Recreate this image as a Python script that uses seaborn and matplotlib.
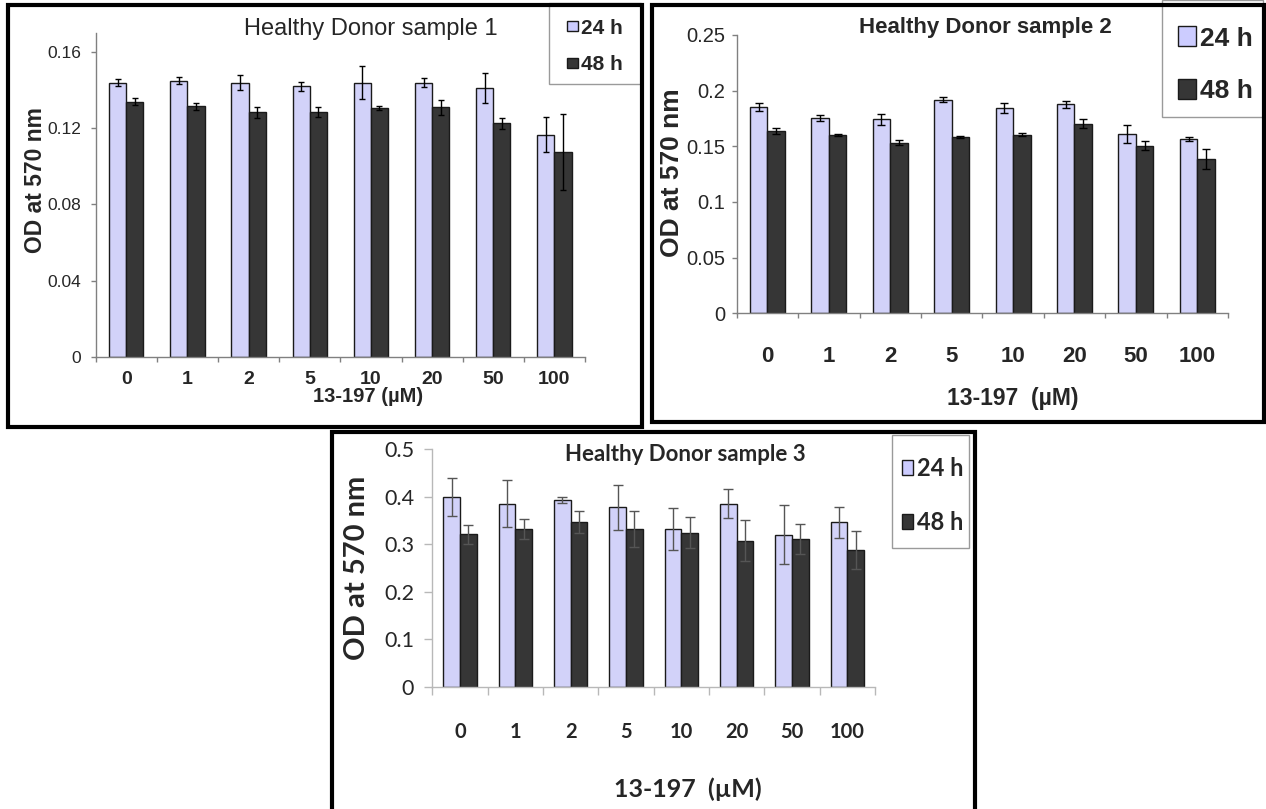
import numpy as np
import pandas as pd
import matplotlib
matplotlib.use('Agg')
import matplotlib.pyplot as plt
from matplotlib.patches import Rectangle
import seaborn as sns

# ---------------- data ----------------
conc = ['0', '1', '2', '5', '10', '20', '50', '100']
times = ['24 h', '48 h']

s1_24 = [0.144, 0.145, 0.144, 0.142, 0.144, 0.144, 0.141, 0.1165]
s1_24_err = [0.002, 0.002, 0.004, 0.0023, 0.0087, 0.0025, 0.008, 0.0092]
s1_48 = [0.134, 0.1314, 0.1284, 0.1286, 0.1305, 0.131, 0.1225, 0.1075]
s1_48_err = [0.002, 0.002, 0.0028, 0.0026, 0.0012, 0.004, 0.0028, 0.020]

s2_24 = [0.185, 0.175, 0.1743, 0.1919, 0.1841, 0.1877, 0.1608, 0.1569]
s2_24_err = [0.0036, 0.0027, 0.005, 0.0024, 0.0045, 0.003, 0.008, 0.0018]
s2_48 = [0.164, 0.1605, 0.1533, 0.1587, 0.1605, 0.1704, 0.1506, 0.1389]
s2_48_err = [0.0027, 0.001, 0.0024, 0.001, 0.0015, 0.0042, 0.004, 0.009]

s3_24 = [0.400, 0.385, 0.393, 0.377, 0.332, 0.385, 0.320, 0.346]
s3_24_err = [0.040, 0.050, 0.006, 0.048, 0.044, 0.030, 0.062, 0.033]
s3_48 = [0.3205, 0.332, 0.3464, 0.332, 0.324, 0.307, 0.311, 0.2875]
s3_48_err = [0.020, 0.021, 0.0235, 0.038, 0.033, 0.043, 0.031, 0.040]

yticks_1 = [0, 0.04, 0.08, 0.12, 0.16]
ylabels_1 = ['0', '0.04', '0.08', '0.12', '0.16']
yticks_2 = [0, 0.05, 0.10, 0.15, 0.20, 0.25]
ylabels_2 = ['0', '0.05', '0.1', '0.15', '0.2', '0.25']
yticks_3 = [0, 0.1, 0.2, 0.3, 0.4, 0.5]
ylabels_3 = ['0', '0.1', '0.2', '0.3', '0.4', '0.5']

palette = {'24 h': '#CCCCFF', '48 h': '#363636'}

# ---------------- setup ----------------
sns.set_style('white')
plt.rcParams['font.family'] = ['Liberation Sans', 'DejaVu Sans']

W, H = 1266, 809
fig = plt.figure(figsize=(W / 100, H / 100), dpi=100)
fig.patch.set_facecolor('white')


def fx(x):
    return x / W


def fy(y):
    return 1 - y / H


def pt2px(s):
    return s * 100 / 72


def px_box(x0, y0, x1, y1, **kw):
    # rectangle given in picture pixels (y downwards)
    r = Rectangle((fx(x0), fy(y1)), (x1 - x0) / W, (y1 - y0) / H,
                  transform=fig.transFigure, **kw)
    fig.add_artist(r)
    return r


def draw_panel(st, m24, e24, m48, e48, yticks, ylabels):
    x0, y0, x1, y1 = st['axes']
    ax = fig.add_axes([fx(x0), fy(y1), (x1 - x0) / W, (y1 - y0) / H])
    df = pd.DataFrame({
        'conc': conc * 2,
        'time': np.repeat(times, len(conc)),
        'od': list(m24) + list(m48),
    })
    sns.barplot(data=df, x='conc', y='od', hue='time', order=conc,
                hue_order=times, palette=palette, width=st['width'],
                errorbar=None, edgecolor='#1a1a1a', linewidth=1.0,
                legend=False, ax=ax, zorder=2)

    for cont, err in zip(ax.containers, [e24, e48]):
        bars = sorted(cont, key=lambda p: p.get_x())
        xs = [p.get_x() + p.get_width() / 2 for p in bars]
        ys = [p.get_height() for p in bars]
        ax.errorbar(xs, ys, yerr=err, fmt='none', ecolor=st['ecolor'],
                    elinewidth=1.0, capsize=st['cap'], capthick=1.0, zorder=5)

    fam = st['family']
    ax.set_xlim(-0.5, len(conc) - 0.5)
    ax.set_ylim(0, st['ymax'])
    ax.set_xticks(range(len(conc)))
    ax.set_xticklabels(conc, fontsize=st['xt_size'], fontweight='bold', family=fam)
    ax.set_xticks(np.arange(-0.5, len(conc)), minor=True)
    ax.set_yticks(yticks)
    ax.set_yticklabels(ylabels, fontsize=st['yt_size'], family=fam)
    ax.tick_params(axis='x', which='major', length=0, pad=st['xt_pad'])
    ax.tick_params(axis='x', which='minor', length=st['tlen'], width=1,
                   color=st['axcol'], direction='out', bottom=True)
    ax.tick_params(axis='y', length=st['tlen'], width=1, color=st['axcol'],
                   direction='out', left=True, pad=st['yt_pad'])
    ax.set_xlabel('')
    ax.set_ylabel('')
    for s in ['top', 'right']:
        ax.spines[s].set_visible(False)
    for s in ['left', 'bottom']:
        ax.spines[s].set_color(st['axcol'])
        ax.spines[s].set_linewidth(1.0)
    ax.set_facecolor('none')

    # title, axis labels
    tx, tb, ts, tw = st['title']
    fig.text(fx(tx), fy(tb), st['title_text'], ha='center', va='baseline',
             fontsize=ts, fontweight=tw, family=fam)
    lx, lb, ls = st['xlabel']
    fig.text(fx(lx), fy(lb), st['xlabel_text'], ha='center', va='baseline',
             fontsize=ls, fontweight='bold', family=fam)
    yx, yy, ys_ = st['ylabel']
    fig.text(fx(yx + 0.1 * pt2px(ys_)), fy(yy), 'OD at 570 nm', rotation=90,
             ha='center', va='center', fontsize=ys_, fontweight='bold', family=fam)

    # legend box
    bx0, by0, bx1, by1 = st['legbox']
    px_box(bx0, by0, bx1, by1, facecolor='white', edgecolor='#9a9a9a', lw=1.0, zorder=3)
    pxl, pw, ph = st['legpatch']
    for t, yc in zip(times, st['legrows']):
        px_box(pxl, yc - ph / 2, pxl + pw, yc + ph / 2, facecolor=palette[t],
               edgecolor='#1a1a1a', lw=1.0, zorder=4)
        fig.text(fx(st['legtext']), fy(yc + 0.36 * pt2px(st['legsize'])), t,
                 ha='left', va='baseline', fontsize=st['legsize'],
                 fontweight='bold', family=fam, zorder=4)

    # outer frame of the panel
    fx0, fy0, fx1, fy1 = st['frame']
    px_box(fx0, fy0, fx1, fy1, fill=False, edgecolor='black', lw=3, zorder=6)
    return ax


style_1 = dict(
    axes=(95.7, 33, 585, 356.7), ymax=0.17, width=0.56,
    family=['Liberation Sans', 'DejaVu Sans'],
    xt_size=14, xt_pad=10.5, yt_size=12.5, yt_pad=7.0, tlen=3.6,
    axcol='#808080', ecolor='black', cap=2.5,
    title_text='Healthy Donor sample 1', title=(370.5, 35, 17, 'normal'),
    xlabel_text='13-197 (\u00b5M)', xlabel=(368.5, 402, 14.5),
    ylabel=(33.5, 180, 16.5),
    legbox=(549, 3, 641, 84), legpatch=(567, 11, 10), legrows=(26, 63),
    legtext=581, legsize=15,
    frame=(8, 5, 642, 427),
)

style_2 = dict(
    axes=(736.7, 35, 1228, 313.3), ymax=0.25, width=0.57,
    family=['Liberation Sans', 'DejaVu Sans'],
    xt_size=16, xt_pad=23.5, yt_size=14.5, yt_pad=4.5, tlen=3.6,
    axcol='#808080', ecolor='black', cap=2.9,
    title_text='Healthy Donor sample 2', title=(985.5, 33, 16, 'bold'),
    xlabel_text='13-197  (\u00b5M)', xlabel=(1013, 405, 16.5),
    ylabel=(669, 173, 19),
    legbox=(1162, 0, 1263, 117), legpatch=(1178, 18, 20), legrows=(36, 89),
    legtext=1200, legsize=19,
    frame=(652, 5, 1264, 422),
)

style_3 = dict(
    axes=(432.3, 449, 875, 686.7), ymax=0.5, width=0.60,
    family=['Lato', 'DejaVu Sans'],
    xt_size=14.5, xt_pad=25.5, yt_size=15.5, yt_pad=7.5, tlen=5.5,
    axcol='#b8b8b8', ecolor='#555555', cap=3.6,
    title_text='Healthy Donor sample 3', title=(685, 461, 16, 'bold'),
    xlabel_text='13-197  (\u00b5M)', xlabel=(688, 797, 18),
    ylabel=(354, 568, 21),
    legbox=(892, 435, 969, 548), legpatch=(902, 11.5, 15), legrows=(467, 521),
    legtext=917, legsize=17,
    frame=(332, 432, 975, 815),
)

draw_panel(style_1, s1_24, s1_24_err, s1_48, s1_48_err, yticks_1, ylabels_1)
draw_panel(style_2, s2_24, s2_24_err, s2_48, s2_48_err, yticks_2, ylabels_2)
draw_panel(style_3, s3_24, s3_24_err, s3_48, s3_48_err, yticks_3, ylabels_3)

fig.savefig('out.png', dpi=100, facecolor='white')
